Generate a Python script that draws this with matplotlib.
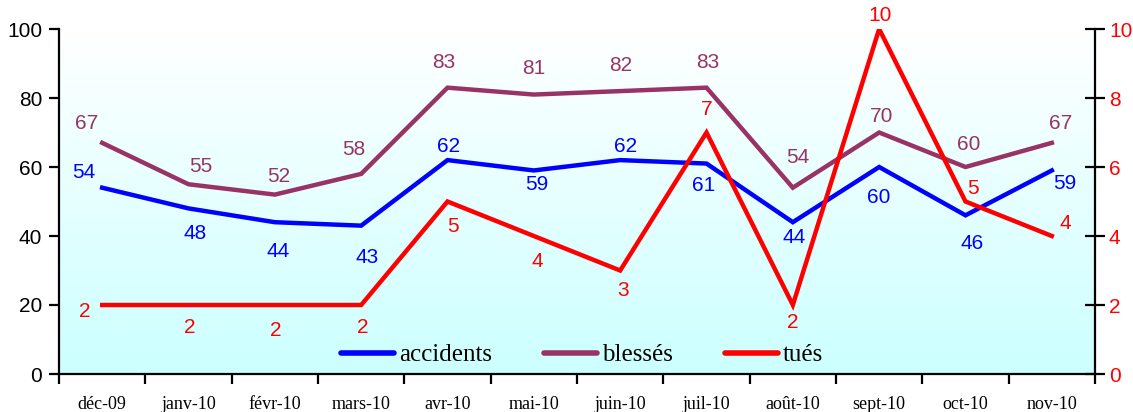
import matplotlib
matplotlib.use("Agg")
import matplotlib.pyplot as plt
import numpy as np
from matplotlib.lines import Line2D

categories = ["déc-09", "janv-10", "févr-10", "mars-10", "avr-10", "mai-10",
              "juin-10", "juil-10", "août-10", "sept-10", "oct-10", "nov-10"]
accidents = [54, 48, 44, 43, 62, 59, 62, 61, 44, 60, 46, 59]
blesses = [67, 55, 52, 58, 83, 81, 82, 83, 54, 70, 60, 67]
tues = [2, 2, 2, 2, 5, 4, 3, 7, 2, 10, 5, 4]

# label offsets in pixels (dx, dy)
off_acc = [(-18, 15), (7, -25), (3, -29), (6, -32), (1, 14), (3, -14),
           (5, 14), (-3, -22), (1, -15), (0, -30), (7, -28), (13, -13)]
off_bl = [(-16, 19), (12, 18), (4, 18), (-7, 24), (-4, 25), (0, 26),
          (1, 26), (1, 25), (5, 30), (2, 16), (3, 23), (9, 19)]
off_tu = [(-17, -6), (1, -22), (1, -25), (2, -22), (5, -25), (3, -25),
          (3, -20), (0, 23), (0, -17), (1, 14), (7, 13), (13, 13)]

C_ACC = "#0000FF"
C_BL = "#993366"
C_TU = "#FF0000"

fig = plt.figure(figsize=(11.33, 4.12), dpi=100)
ax = fig.add_axes([59/1133, 1-374/412, (1095-59)/1133, (374-29)/412])
ax2 = ax.twinx()

x = np.arange(len(categories)) + 0.5
ax.set_xlim(0, len(categories))
ax.set_ylim(0, 100)
ax2.set_ylim(0, 10)

# background gradient
grad = np.linspace(0, 1, 256).reshape(-1, 1)
top = np.array([1.0, 1.0, 1.0])
bot = np.array([204/255, 1.0, 1.0])
img = top[None, None, :] * (1 - grad[:, :, None]) + bot[None, None, :] * grad[:, :, None]
ax.imshow(img, extent=[0, len(categories), 0, 100], aspect="auto", zorder=0, origin="upper")

lw = 3.2
ax.plot(x, accidents, color=C_ACC, lw=lw, zorder=3, solid_joinstyle="miter")
ax.plot(x, blesses, color=C_BL, lw=lw, zorder=3, solid_joinstyle="miter")
ax2.plot(x, tues, color=C_TU, lw=lw, zorder=3, solid_joinstyle="miter")

FS = 15
lab_font = dict(family="Liberation Sans", fontsize=FS)
for xi, v, o in zip(x, accidents, off_acc):
    ax.annotate(str(v), (xi, v), xytext=o, textcoords="offset pixels",
                ha="center", va="center", color=C_ACC, **lab_font)
for xi, v, o in zip(x, blesses, off_bl):
    ax.annotate(str(v), (xi, v), xytext=o, textcoords="offset pixels",
                ha="center", va="center", color=C_BL, **lab_font)
for xi, v, o in zip(x, tues, off_tu):
    ax2.annotate(str(v), (xi, v), xytext=o, textcoords="offset pixels",
                 ha="center", va="center", color=C_TU, annotation_clip=False, **lab_font)

# spines
for a in (ax, ax2):
    a.spines["top"].set_visible(False)
ax.spines["right"].set_visible(False)
for s in ("left", "bottom"):
    ax.spines[s].set_linewidth(1.6)
ax2.spines["right"].set_linewidth(1.6)
ax2.spines["left"].set_visible(False)
ax2.spines["bottom"].set_visible(False)

# x ticks
ax.set_xticks(np.arange(len(categories) + 1))
ax.set_xticklabels([])
ax.set_xticks(x, minor=True)
ax.set_xticklabels(categories, minor=True, family="Liberation Serif", fontsize=13)
ax.tick_params(axis="x", which="major", direction="out", length=7, width=1.6)
ax.tick_params(axis="x", which="minor", length=0, pad=16)

ax.set_yticks(np.arange(0, 101, 20))
ax.tick_params(axis="y", direction="out", length=7, width=1.6, pad=5,
               labelsize=FS, labelcolor="black")
for t in ax.get_yticklabels():
    t.set_family("Liberation Sans")
ax2.set_yticks(np.arange(0, 11, 2))
ax2.tick_params(axis="y", direction="inout", length=14, width=1.6, pad=3,
                labelsize=FS, labelcolor=C_TU)
for t in ax2.get_yticklabels():
    t.set_family("Liberation Sans")

handles = [Line2D([], [], color=C_ACC, lw=4.0, solid_capstyle="round"),
           Line2D([], [], color=C_BL, lw=4.0, solid_capstyle="round"),
           Line2D([], [], color=C_TU, lw=4.0, solid_capstyle="round")]
ax2.legend(handles, ["accidents", "blessés", "tués"], loc="center",
           bbox_to_anchor=(0.505, 0.055), ncol=3, frameon=False,
           prop=dict(family="Liberation Serif", size=18),
           handlelength=2.1, handletextpad=0.2, columnspacing=2.1,
           borderpad=0, borderaxespad=0)

fig.savefig("out.png", dpi=100)
